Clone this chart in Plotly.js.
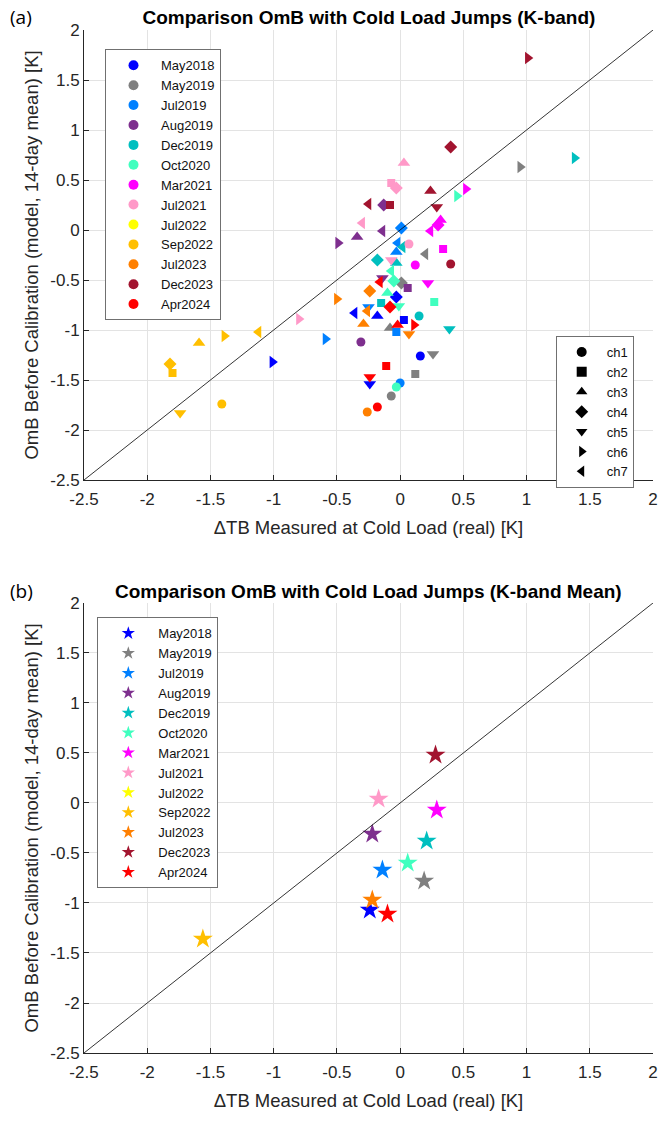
<!DOCTYPE html>
<html>
<head>
<meta charset="utf-8">
<script src="https://cdn.plot.ly/plotly-3.0.1.min.js"></script>
<style>
  html, body { margin: 0; padding: 0; background: #fff; }
  #chart { width: 666px; height: 1128px; }
</style>
</head>
<body>
<div id="chart"></div>
<script>
// campaigns and channels
const datasets = ["May2018", "May2019", "Jul2019", "Aug2019", "Dec2019", "Oct2020", "Mar2021",
  "Jul2021", "Jul2022", "Sep2022", "Jul2023", "Dec2023", "Apr2024"];
const channels = ["ch1", "ch2", "ch3", "ch4", "ch5", "ch6", "ch7"];

// per channel values, ch1..ch7 (dTB at cold load, OmB before calibration)
const dtbMay2018 = [0.16, 0.03, -0.18, -0.03, -0.24, -1.01, -0.36];
const ombMay2018 = [-1.26, -0.90, -0.86, -0.67, -1.54, -1.32, -0.83];
const dtbMay2019 = [-0.07, 0.12, -0.08, 0.01, 0.26, 0.95, 0.20];
const ombMay2019 = [-1.66, -1.44, -0.98, -0.53, -1.24, 0.63, -0.24];
const dtbJul2019 = [0.00, -0.03, -0.03, 0.01, -0.25, -0.59, -0.02];
const ombJul2019 = [-1.53, -1.02, -0.22, 0.02, -0.77, -1.09, -0.13];
const dtbAug2019 = [-0.31, 0.06, -0.34, -0.13, -0.14, -0.49, -0.14];
const ombAug2019 = [-1.12, -0.58, -0.07, 0.25, -0.48, -0.13, -0.01];
const dtbDec2019 = [0.15, -0.15, -0.03, -0.18, 0.39, 1.38, 0.02];
const ombDec2019 = [-0.86, -0.73, -0.33, -0.30, -0.99, 0.72, -0.17];
const dtbOct2020 = [-0.03, 0.27, -0.10, -0.05, -0.01, 0.45, -0.07];
const ombOct2020 = [-1.57, -0.72, -0.63, -0.51, -0.76, 0.34, -0.41];
const dtbMar2021 = [0.12, 0.34, 0.32, 0.30, 0.22, 0.52, 0.24];
const ombMar2021 = [-0.35, -0.19, 0.10, 0.05, -0.53, 0.41, -0.01];
const dtbJul2021 = [0.07, -0.07, 0.03, -0.03, -0.07, -0.80, -0.30];
const ombJul2021 = [-0.14, 0.47, 0.67, 0.42, -0.30, -0.89, 0.07];
const dtbJul2022 = [null, null, null, null, null, null, null];
const ombJul2022 = [null, null, null, null, null, null, null];
const dtbSep2022 = [-1.41, -1.80, -1.59, -1.82, -1.74, -1.39, -1.12];
const ombSep2022 = [-1.74, -1.43, -1.13, -1.34, -1.83, -1.06, -1.02];
const dtbJul2023 = [-0.26, null, -0.29, -0.24, 0.07, -0.50, -0.26];
const ombJul2023 = [-1.82, null, -0.94, -0.61, -1.04, -0.69, -0.81];
const dtbDec2023 = [0.40, -0.08, 0.24, 0.40, 0.29, 1.01, -0.25];
const ombDec2023 = [-0.34, 0.25, 0.39, 0.83, 0.23, 1.72, 0.26];
const dtbApr2024 = [-0.18, -0.11, -0.02, -0.08, -0.24, 0.11, -0.16];
const ombApr2024 = [-1.77, -1.36, -0.95, -0.77, -1.47, -0.95, -0.52];

// K-band mean per campaign
const meanDtb = [-0.24, 0.19, -0.14, -0.22, 0.21, 0.06, 0.29, -0.17, null, -1.56, -0.22, 0.28, -0.10];
const meanOmb = [-1.07, -0.78, -0.67, -0.31, -0.38, -0.60, -0.07, 0.04, null, -1.36, -0.97, 0.48, -1.11];

// axis ticks and 1:1 line
const tickValues = [-2.5, -2, -1.5, -1, -0.5, 0, 0.5, 1, 1.5, 2];
const tickLabels = ["-2.5", "-2", "-1.5", "-1", "-0.5", "0", "0.5", "1", "1.5", "2"];
const identityLine = [-2.5, 2];

const dtbByDataset = [dtbMay2018, dtbMay2019, dtbJul2019, dtbAug2019, dtbDec2019, dtbOct2020, dtbMar2021,
  dtbJul2021, dtbJul2022, dtbSep2022, dtbJul2023, dtbDec2023, dtbApr2024];
const ombByDataset = [ombMay2018, ombMay2019, ombJul2019, ombAug2019, ombDec2019, ombOct2020, ombMar2021,
  ombJul2021, ombJul2022, ombSep2022, ombJul2023, ombDec2023, ombApr2024];

const colors = ["#0000FF", "#808080", "#0080FF", "#7E2F8E", "#00BFBF", "#40FFBF", "#FF00FF",
  "#FF99C8", "#FFFF00", "#FFBF00", "#FF8000", "#A2142F", "#FF0000"];
const channelSymbols = ["circle", "square", "triangle-up", "diamond", "triangle-down", "triangle-right", "triangle-left"];
const channelSizes = [9, 8, 11, 10, 11, 11, 11];

const FONT = "Liberation Sans, Arial, sans-serif";
const INK = "#262626";

const traces = [];

// (a) per channel points
datasets.forEach((name, i) => {
  traces.push({
    x: dtbByDataset[i],
    y: ombByDataset[i],
    xaxis: "x", yaxis: "y",
    type: "scatter", mode: "markers",
    name: name,
    showlegend: false,
    marker: { color: colors[i], symbol: channelSymbols, size: channelSizes, opacity: 1, line: { width: 0 } },
  });
});

// (b) mean points
datasets.forEach((name, i) => {
  traces.push({
    x: [meanDtb[i]],
    y: [meanOmb[i]],
    xaxis: "x2", yaxis: "y2",
    type: "scatter", mode: "markers",
    name: name,
    showlegend: false,
    marker: { color: colors[i], symbol: "star", size: 15, opacity: 1, line: { width: 0 } },
  });
});

// 1:1 lines
["", "2"].forEach((ax) => {
  traces.push({
    x: identityLine, y: identityLine,
    xaxis: "x" + ax, yaxis: "y" + ax,
    type: "scatter", mode: "lines",
    line: { color: "#000", width: 0.8 },
    showlegend: false, hoverinfo: "skip",
  });
});

// legend entries
datasets.forEach((name, i) => {
  traces.push({
    x: [null], y: [null], xaxis: "x", yaxis: "y",
    type: "scatter", mode: "markers", name: name, legend: "legend",
    marker: { color: colors[i], symbol: "circle", size: 10, line: { width: 0 } },
  });
});
channels.forEach((name, k) => {
  traces.push({
    x: [null], y: [null], xaxis: "x", yaxis: "y",
    type: "scatter", mode: "markers", name: name, legend: "legend2",
    marker: { color: "#000", symbol: channelSymbols[k], size: 10, line: { width: 0 } },
  });
});
datasets.forEach((name, i) => {
  traces.push({
    x: [null], y: [null], xaxis: "x2", yaxis: "y2",
    type: "scatter", mode: "markers", name: name, legend: "legend3",
    marker: { color: colors[i], symbol: "star", size: 10, line: { width: 0 } },
  });
});

const axisCommon = {
  range: [-2.5, 2],
  tickmode: "array",
  tickvals: tickValues,
  ticktext: tickLabels,
  ticks: "inside",
  ticklen: 5,
  tickcolor: INK,
  tickfont: { family: FONT, size: 17, color: INK },
  showline: true,
  linecolor: INK,
  linewidth: 1,
  showgrid: true,
  gridcolor: "#e3e3e3",
  gridwidth: 1,
  zeroline: false,
  automargin: false,
  fixedrange: true,
};

const xTitle = { text: "ΔTB Measured at Cold Load (real) [K]", font: { family: FONT, size: 18.5, color: INK }, standoff: 12 };
const yTitle = { text: "OmB Before Calibration (model, 14-day mean) [K]", font: { family: FONT, size: 18.5, color: INK }, standoff: 6 };

const legendCommon = {
  xanchor: "left", yanchor: "top",
  bgcolor: "#fff",
  bordercolor: "#707070",
  borderwidth: 1,
  font: { family: FONT, size: 13, color: "#111" },
  itemwidth: 45,
  itemclick: false,
  itemdoubleclick: false,
};

const layout = {
  width: 666,
  height: 1128,
  paper_bgcolor: "#fff",
  plot_bgcolor: "#fff",
  margin: { l: 84, r: 13, t: 30, b: 75 },
  title: {
    text: "<b>Comparison OmB with Cold Load Jumps (K-band)</b>",
    font: { family: FONT, size: 19, color: "#000" },
    x: 0.554, xanchor: "center",
    y: 1 - 17 / 1128, yanchor: "middle",
  },
  xaxis: Object.assign({}, axisCommon, { domain: [0, 1], anchor: "y", title: xTitle, ticklabelstandoff: 4 }),
  yaxis: Object.assign({}, axisCommon, { domain: [0.5601, 1], anchor: "x", title: yTitle }),
  xaxis2: Object.assign({}, axisCommon, { domain: [0, 1], anchor: "y2", title: xTitle, ticklabelstandoff: 4 }),
  yaxis2: Object.assign({}, axisCommon, { domain: [0, 0.4399], anchor: "x2", title: yTitle }),
  legend: Object.assign({}, legendCommon, { x: 0.0369, y: 0.9811 }),
  legend2: Object.assign({}, legendCommon, { x: 0.829, y: 0.7009, itemwidth: 40 }),
  legend3: Object.assign({}, legendCommon, { x: 0.0234, y: 0.4259, itemwidth: 50 }),
  annotations: [
    {
      text: "<b>Comparison OmB with Cold Load Jumps (K-band Mean)</b>",
      xref: "paper", yref: "paper", x: 0.5, y: (1053 - 591) / 1023,
      xanchor: "center", yanchor: "middle", showarrow: false,
      font: { family: FONT, size: 19, color: "#000" },
    },
    {
      text: "(a)", xref: "paper", yref: "paper", x: (8 - 84) / 569, y: (1053 - 17) / 1023,
      xanchor: "left", yanchor: "middle", showarrow: false,
      font: { family: "Open Sans, sans-serif", size: 19, color: "#000" },
    },
    {
      text: "(b)", xref: "paper", yref: "paper", x: (8 - 84) / 569, y: (1053 - 591) / 1023,
      xanchor: "left", yanchor: "middle", showarrow: false,
      font: { family: "Open Sans, sans-serif", size: 19, color: "#000" },
    },
  ],
  showlegend: true,
  hovermode: "closest",
};

Plotly.newPlot("chart", traces, layout, { displayModeBar: false, staticPlot: true });
</script>
</body>
</html>
